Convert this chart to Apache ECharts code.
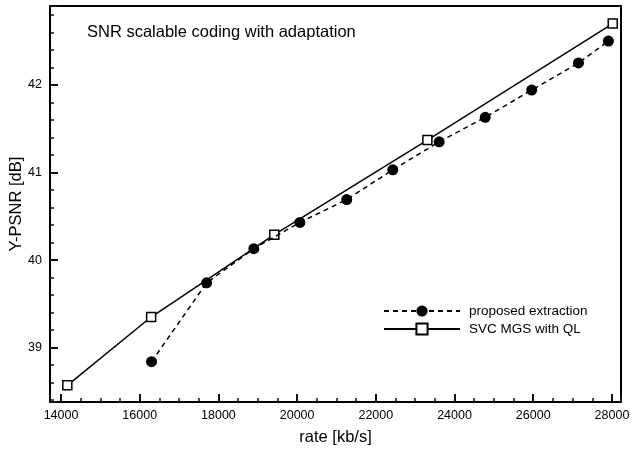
<!DOCTYPE html>
<html>
<head>
<meta charset="utf-8">
<script src="https://cdn.jsdelivr.net/npm/echarts@6/dist/echarts.min.js"></script>
<style>
  html, body { margin: 0; padding: 0; background: #fff; }
  #chart { width: 631px; height: 450px; }
</style>
</head>
<body>
<div id="chart"></div>
<script>
// rate [kb/s] and Y-PSNR [dB]
var proposedRate = [16300, 17700, 18900, 20070, 21260, 22430, 23610, 24780, 25960, 27150, 27910];
var proposedPsnr = [38.84, 39.74, 40.13, 40.43, 40.69, 41.03, 41.35, 41.63, 41.94, 42.25, 42.50];
var svcRate = [14160, 16290, 19420, 23310, 28020];
var svcPsnr = [38.57, 39.35, 40.29, 41.37, 42.70];
var seriesNames = ["proposed extraction", "SVC MGS with QL"];
var titleText = "SNR scalable coding with adaptation";

var font = "Liberation Sans, Arial, Helvetica, sans-serif";
var xRange = [13720, 28230];
var yRange = [38.38, 42.9];

function pairs(xs, ys) {
  return xs.map(function (x, i) { return [x, ys[i]]; });
}

// plain line for the top / right edges of the frame
function frameAxis(pos, range) {
  return {
    type: "value",
    position: pos,
    min: range[0],
    max: range[1],
    axisLine: { show: true, onZero: false, lineStyle: { color: "#000", width: 2 } },
    axisTick: { show: false },
    axisLabel: { show: false },
    splitLine: { show: false }
  };
}

var myChart = echarts.init(document.getElementById("chart"));
var option = {
  backgroundColor: "#ffffff",
  animation: false,
  title: {
    text: titleText,
    left: 87,
    top: 24,
    padding: 0,
    textStyle: { fontSize: 16.5, fontWeight: "normal", color: "#000", fontFamily: font }
  },
  grid: {
    left: 50,
    right: 10,
    top: 6,
    bottom: 48,
    outerBoundsMode: "none"
  },
  legend: {
    orient: "vertical",
    left: 378,
    top: 299,
    itemWidth: 76,
    itemHeight: 14,
    itemGap: 4,
    textStyle: { fontSize: 13.5, color: "#000", fontFamily: font, padding: [0, 0, 0, 4] },
    data: seriesNames
  },
  xAxis: [
    {
      type: "value",
      position: "bottom",
      min: xRange[0],
      max: xRange[1],
      splitNumber: 7,
      name: "rate [kb/s]",
      nameLocation: "middle",
      nameGap: 27,
      nameTextStyle: { fontSize: 16.5, color: "#000", fontFamily: font },
      axisLine: { show: true, onZero: false, lineStyle: { color: "#000", width: 2 } },
      axisTick: { show: true, inside: true, length: 8, lineStyle: { color: "#111", width: 2 } },
      minorTick: { show: true, splitNumber: 4, length: 4, lineStyle: { color: "#111", width: 1.5 } },
      splitLine: { show: false },
      axisLabel: {
        fontSize: 12.5, color: "#000", margin: 7, showMinLabel: false, showMaxLabel: false, fontFamily: font,
        formatter: function (v) { return String(v); }
      },
      z: 5
    },
    frameAxis("top", xRange)
  ],
  yAxis: [
    {
      type: "value",
      position: "left",
      min: yRange[0],
      max: yRange[1],
      splitNumber: 4,
      name: "Y-PSNR [dB]",
      nameLocation: "middle",
      nameGap: 25,
      nameMoveOverlap: false,
      nameTextStyle: { fontSize: 16.5, color: "#000", fontFamily: font },
      axisLine: { show: true, onZero: false, lineStyle: { color: "#000", width: 2 } },
      axisTick: { show: true, inside: true, length: 8, lineStyle: { color: "#111", width: 2 } },
      minorTick: { show: true, splitNumber: 5, length: 4, lineStyle: { color: "#111", width: 1.5 } },
      splitLine: { show: false },
      axisLabel: {
        fontSize: 12.5, color: "#000", margin: 8, showMinLabel: false, showMaxLabel: false, fontFamily: font,
        formatter: function (v) { return String(v); }
      },
      z: 5
    },
    frameAxis("right", yRange)
  ],
  series: [
    {
      name: seriesNames[0],
      type: "line",
      data: pairs(proposedRate, proposedPsnr),
      symbol: "circle",
      symbolSize: 11,
      itemStyle: { color: "#000" },
      lineStyle: { color: "#000", width: 1.5, type: [5, 4] },
      z: 3
    },
    {
      name: seriesNames[1],
      type: "line",
      data: pairs(svcRate, svcPsnr),
      symbol: "rect",
      symbolSize: 9,
      itemStyle: { color: "#fff", borderColor: "#000", borderWidth: 1.5 },
      lineStyle: { color: "#000", width: 1.5 },
      z: 2
    }
  ]
};
myChart.setOption(option);
window.onresize = function () {
  myChart.resize();
};
</script>
</body>
</html>
